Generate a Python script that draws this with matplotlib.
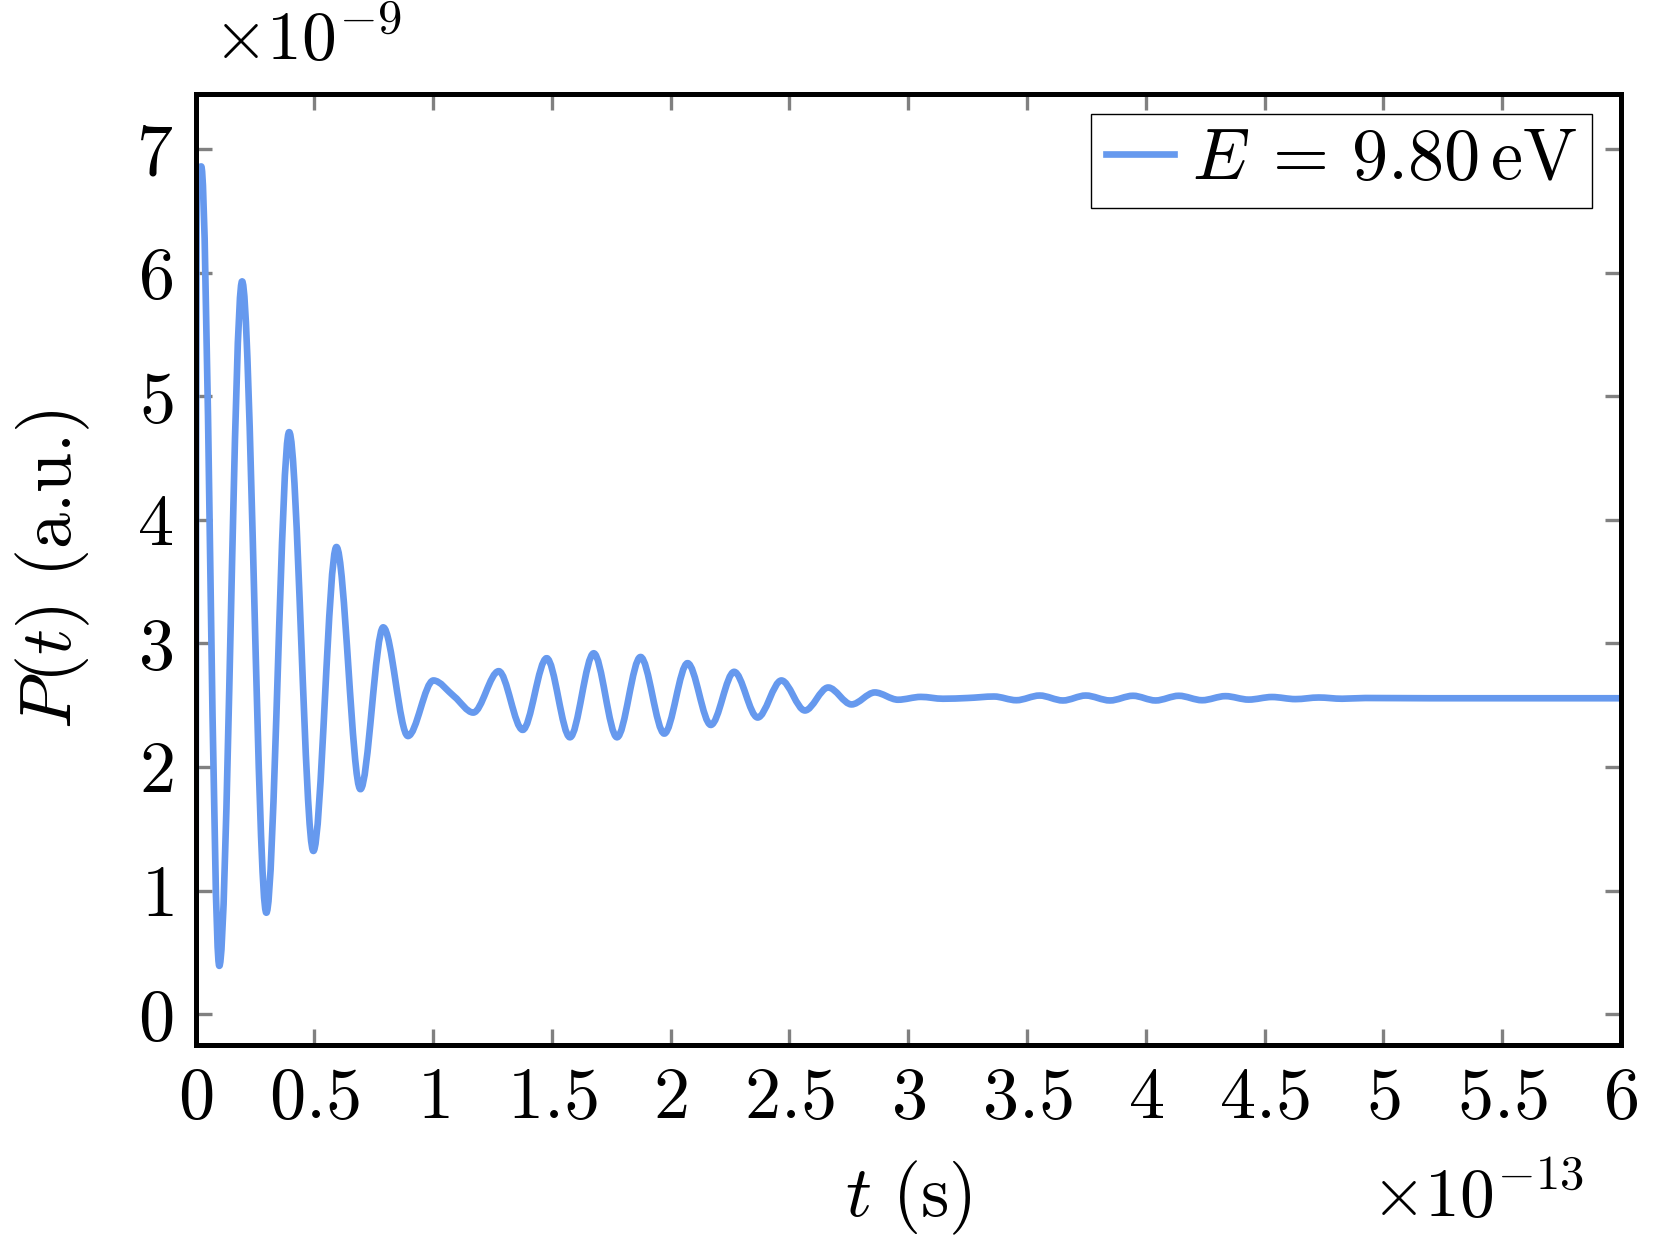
import numpy as np
import matplotlib
matplotlib.use("Agg")
import matplotlib.pyplot as plt
from matplotlib.path import Path
from matplotlib.patches import PathPatch
from matplotlib.lines import Line2D
from matplotlib.ticker import FuncFormatter

plt.rcParams["mathtext.fontset"] = "cm"
plt.rcParams["font.family"] = "serif"
plt.rcParams["font.serif"] = ["cmr10", "DejaVu Serif"]
plt.rcParams["axes.unicode_minus"] = False

# values: t in units of 1e-13 s, P in units of 1e-9 a.u.
T_READ = [0.000, 0.005, 0.024, 0.100, 0.196, 0.298, 0.394, 0.496, 0.593, 0.694,
          0.790, 0.894, 1.001, 1.089, 1.169, 1.276, 1.377, 1.478, 1.576, 1.676,
          1.774, 1.873, 1.973, 2.071, 2.169, 2.267, 2.366, 2.466, 2.565, 2.663,
          2.761, 2.859, 2.957, 3.053, 3.146, 3.250, 3.361, 3.455, 3.553, 3.651,
          3.747, 3.849, 3.946, 4.041, 4.139, 4.237, 4.335, 4.433, 4.531, 4.630,
          4.728, 4.826, 4.924, 5.200, 5.500, 6.000]
P_READ = [0.00, 6.80, 6.86, 0.39, 5.93, 0.82, 4.71, 1.32, 3.78, 1.82,
          3.13, 2.25, 2.70, 2.57, 2.44, 2.775, 2.30, 2.88, 2.24, 2.92,
          2.24, 2.89, 2.27, 2.84, 2.34, 2.77, 2.40, 2.70, 2.457, 2.643,
          2.506, 2.603, 2.544, 2.567, 2.552, 2.558, 2.570, 2.540, 2.578, 2.538,
          2.578, 2.538, 2.576, 2.538, 2.576, 2.540, 2.573, 2.545, 2.566, 2.549,
          2.562, 2.552, 2.558, 2.556, 2.556, 2.556]

X_TICKS = [0, 0.5, 1, 1.5, 2, 2.5, 3, 3.5, 4, 4.5, 5, 5.5, 6]
Y_TICKS = [0, 1, 2, 3, 4, 5, 6, 7]
LEGEND_LABEL = r"$E\:=\,9.80\,\mathrm{eV}$"
LINE_COLOR = "#6699ee"
FS = 26


def smooth_path(x, y):
    # cubic bezier segments through the read points (flat tangents at extrema)
    x = np.asarray(x, float)
    y = np.asarray(y, float)
    d = np.diff(y) / np.diff(x)
    m = np.zeros_like(y)
    m[0], m[-1] = d[0], d[-1]
    for i in range(1, len(x) - 1):
        if d[i - 1] * d[i] > 0:
            m[i] = 2.0 / (1.0 / d[i - 1] + 1.0 / d[i])
    verts = [(x[0], y[0])]
    codes = [Path.MOVETO]
    for i in range(len(x) - 1):
        h = x[i + 1] - x[i]
        verts += [(x[i] + h / 3, y[i] + m[i] * h / 3),
                  (x[i + 1] - h / 3, y[i + 1] - m[i + 1] * h / 3),
                  (x[i + 1], y[i + 1])]
        codes += [Path.CURVE4] * 3
    return Path(verts, codes)


fig = plt.figure(figsize=(8.3, 6.27), dpi=200)
ax = fig.add_axes([0.1178, 0.1667, 0.8587, 0.7587])

ax.add_patch(PathPatch(smooth_path(T_READ, P_READ), facecolor="none",
                       edgecolor=LINE_COLOR, lw=2.4, capstyle="round",
                       joinstyle="round", zorder=2))

ax.set_xlim(0, 6)
ax.set_ylim(-0.25, 7.45)
ax.set_xticks(X_TICKS)
ax.set_yticks(Y_TICKS)
fmt = FuncFormatter(lambda v, p: f"${v:g}$")
ax.xaxis.set_major_formatter(fmt)
ax.yaxis.set_major_formatter(fmt)
ax.tick_params(direction="in", length=5.8, width=1.2, color="#808080",
               top=True, right=True, labelsize=FS, pad=8)
for sp in ax.spines.values():
    sp.set_linewidth(1.8)
    sp.set_zorder(3)

ax.set_xlabel(r"$t\ (\mathrm{s})$", fontsize=FS, labelpad=9.5)
ax.set_ylabel(r"$P(t)$ (a.u.)", fontsize=FS, labelpad=16)

ax.text(0.974, -0.1805, r"$\times10^{-13}$", transform=ax.transAxes,
        ha="right", va="baseline", fontsize=25)
ax.text(0.012, 1.0352, r"$\times10^{-9}$", transform=ax.transAxes,
        ha="left", va="baseline", fontsize=25)

handle = Line2D([], [], color=LINE_COLOR, lw=2.4)
leg = ax.legend([handle], [LEGEND_LABEL], loc="upper right",
                bbox_to_anchor=(0.9797, 0.9785), borderaxespad=0,
                fontsize=26, frameon=True, fancybox=False, framealpha=1,
                edgecolor="black", borderpad=0.2, handlelength=0.95,
                handletextpad=0.25)
leg.get_frame().set_linewidth(0.5)

fig.savefig("out.png", dpi=200)
